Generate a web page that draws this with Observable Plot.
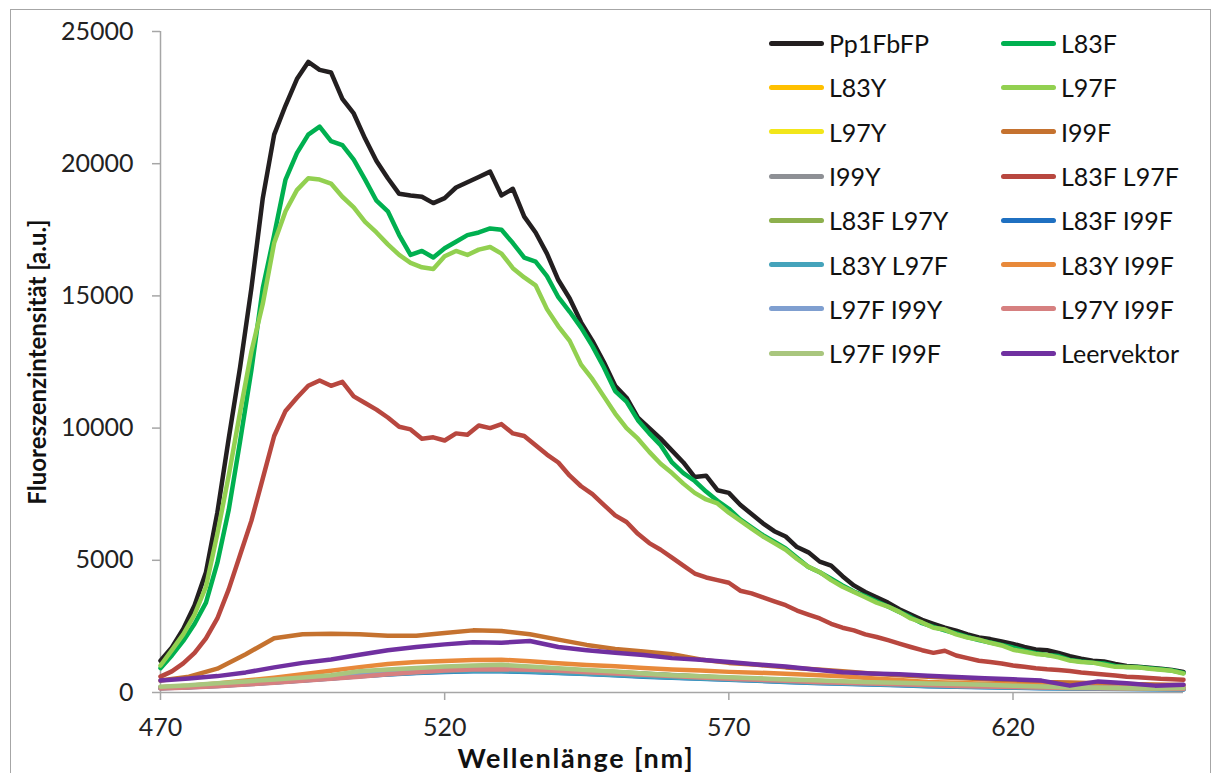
<!DOCTYPE html>
<html>
<head>
<meta charset="utf-8">
<script src="https://cdn.jsdelivr.net/npm/d3@7"></script>
<script src="https://cdn.jsdelivr.net/npm/@observablehq/plot@0.6"></script>
<style>
  html, body { margin: 0; padding: 0; background: #fff; }
  #wrap { position: relative; width: 1215px; height: 773px; overflow: hidden; font-family: Lato, "Open Sans", sans-serif; }
  #frame { position: absolute; left: 10px; top: 9px; width: 1201px; height: 800px; border: 1.5px solid #a6a6a6; box-sizing: border-box; }
  #chart { position: absolute; left: 0; top: 0; }
  #ytitle { position: absolute; left: 37px; top: 362px; transform: translate(-50%, -50%) rotate(-90deg); font-weight: bold; font-size: 24px; line-height: 26px; white-space: nowrap; color: #111; }
  #xtitle { position: absolute; left: 576px; top: 743px; transform: translateX(-50%); font-weight: bold; font-size: 27px; line-height: 29px; letter-spacing: 1.8px; white-space: nowrap; color: #111; }
  #legend { position: absolute; left: 769px; top: 21px; display: grid; grid-template-columns: 232px 200px; grid-auto-rows: 44.3px; }
  .item { display: flex; align-items: center; font-size: 25px; color: #111; }
  .sw { width: 55px; height: 5px; border-radius: 3px; margin-right: 5px; }
</style>
</head>
<body>
<div id="wrap">
  <div id="frame"></div>
  <div id="chart"></div>
  <div id="ytitle">Fluoreszenzintensität [a.u.]</div>
  <div id="xtitle">Wellenlänge [nm]</div>
  <div id="legend"></div>
</div>
<script>
const seriesNames = ["Pp1FbFP","L83F","L83Y","L97F","L97Y","I99F","I99Y","L83F L97F","L83F L97Y","L83F I99F","L83Y L97F","L83Y I99F","L97F I99Y","L97Y I99F","L97F I99F","Leervektor"];
const seriesColors = ["#231f20","#00b050","#ffc000","#92d050","#f2e61a","#c5722f","#8e9095","#b8473f","#8db04d","#1f70c1","#45a3bb","#e8893a","#7f9fd0","#d68080","#a9c67e","#7030a0"];

const xTicks = [470, 520, 570, 620];
const yTicks = [0, 5000, 10000, 15000, 20000, 25000];

// wavelength grids (nm)
const wl2 = [470,472,474,476,478,480,482,484,486,488,490,492,494,496,498,500,502,504,506,508,510,512,514,516,518,520,522,524,526,528,530,532,534,536,538,540,542,544,546,548,550,552,554,556,558,560,562,564,566,568,570,572,574,576,578,580,582,584,586,588,590,592,594,596,598,600,602,604,606,608,610,612,614,616,618,620,622,624,626,628,630,632,634,636,638,640,642,644,646,648,650];
const wl5 = [470,475,480,485,490,495,500,505,510,515,520,525,530,535,540,545,550,555,560,565,570,575,580,585,590,595,600,605,610,615,620,625,630,635,640,645,650];

// 2 nm series
const Pp1FbFP = [1200,1700,2400,3300,4550,6800,9600,12300,15300,18700,21100,22200,23200,23850,23550,23450,22450,21900,20950,20100,19450,18860,18800,18750,18510,18700,19100,19300,19500,19700,18800,19050,18000,17400,16600,15600,14900,14000,13300,12500,11600,11150,10400,10000,9600,9150,8700,8150,8200,7650,7550,7100,6750,6400,6100,5900,5500,5300,4950,4800,4400,4050,3800,3600,3400,3150,2950,2750,2600,2450,2340,2200,2080,2020,1930,1840,1720,1630,1600,1500,1370,1280,1200,1170,1080,1000,970,940,900,850,780];
const L83F = [920,1400,1950,2600,3400,4900,6900,9500,12200,15300,17300,19400,20400,21100,21400,20850,20700,20150,19400,18600,18200,17300,16550,16700,16450,16800,17050,17300,17400,17550,17500,17000,16450,16300,15750,14950,14400,13800,13100,12300,11400,11000,10300,9800,9350,8700,8300,8000,7600,7250,6950,6550,6250,5950,5700,5450,5100,4750,4550,4300,4050,3820,3650,3450,3250,3050,2850,2620,2480,2350,2230,2100,1980,1890,1800,1700,1580,1490,1420,1380,1230,1170,1130,1100,1000,960,960,920,880,830,740];
const L97F = [1020,1600,2200,2950,4000,6000,8200,10600,12900,14700,17000,18200,19000,19450,19400,19250,18750,18350,17800,17400,16950,16550,16250,16080,16020,16500,16700,16550,16750,16850,16600,16050,15700,15400,14500,13850,13300,12400,11850,11200,10550,10000,9600,9100,8650,8300,7900,7550,7300,7150,6800,6500,6200,5900,5650,5400,5050,4750,4550,4250,4000,3800,3600,3400,3250,3050,2800,2650,2450,2380,2200,2080,2000,1880,1780,1620,1540,1460,1420,1330,1210,1150,1130,1050,970,960,950,900,860,820,720];
const L83F_L97F = [600,800,1100,1500,2050,2800,3900,5200,6500,8100,9700,10650,11150,11600,11800,11600,11750,11200,10950,10700,10400,10050,9950,9600,9650,9530,9800,9750,10100,10000,10150,9800,9700,9350,9000,8700,8200,7800,7500,7100,6700,6450,6000,5650,5400,5100,4800,4500,4350,4250,4150,3850,3750,3600,3450,3300,3100,2950,2800,2600,2450,2350,2200,2100,1980,1850,1720,1600,1500,1580,1400,1300,1200,1150,1100,1020,970,920,880,850,810,760,720,680,640,600,580,550,520,500,480];

// 5 nm series
const L83Y = [180,220,280,350,420,500,580,670,750,820,870,900,910,890,850,800,750,700,640,590,540,500,460,420,380,350,320,290,260,240,220,200,180,170,160,150,140];
const L97Y = [170,210,270,340,410,490,570,650,730,800,850,880,890,870,830,780,730,680,620,570,520,480,440,400,360,330,300,270,250,230,210,190,170,160,150,140,130];
const I99F = [450,600,900,1450,2050,2200,2220,2200,2150,2150,2250,2350,2330,2200,2000,1800,1650,1550,1450,1250,1120,1050,950,880,800,720,650,600,550,500,450,400,380,350,320,300,280];
const I99Y = [190,230,290,360,430,510,590,680,760,830,880,910,920,900,860,810,760,700,650,600,550,510,470,430,390,360,330,300,270,250,230,210,190,180,170,160,150];
const L83F_L97Y = [200,240,300,370,440,520,600,690,770,840,890,930,950,920,880,830,780,720,660,610,560,520,480,440,400,370,340,310,280,260,240,220,200,190,180,170,160];
const L83F_I99F = [160,200,250,310,380,450,530,610,680,740,780,800,800,780,740,700,650,600,560,520,480,440,400,360,330,300,270,240,220,200,180,160,150,140,130,120,110];
const L83Y_L97F = [170,210,260,320,390,460,540,620,690,750,790,810,810,790,750,710,660,610,570,530,490,450,410,370,340,310,280,250,230,210,190,170,160,150,140,130,120];
const L83Y_I99F = [200,260,340,450,560,690,820,960,1080,1150,1190,1230,1240,1180,1110,1040,990,930,870,830,780,750,710,660,610,540,470,400,370,330,300,270,240,220,200,190,180];
const L97F_I99Y = [190,230,290,360,440,520,600,690,770,840,890,930,940,910,870,820,770,710,650,600,550,510,470,430,390,360,330,300,270,250,230,210,190,180,170,160,150];
const L97Y_I99F = [150,190,240,300,370,440,520,600,690,770,830,870,880,860,820,770,720,670,620,570,520,480,440,400,370,340,310,280,250,230,210,190,170,160,150,140,130];
const L97F_I99F = [220,270,350,420,490,570,650,800,870,930,980,1020,1050,980,920,850,790,720,650,610,580,540,490,460,430,390,370,340,320,290,260,230,190,180,160,150,170];
const Leervektor = [450,530,620,760,950,1120,1250,1430,1600,1720,1820,1900,1880,1950,1720,1600,1500,1420,1300,1240,1150,1060,980,870,770,720,690,630,590,540,500,450,260,420,350,260,290];

const seriesValues = {
  "Pp1FbFP": [wl2, Pp1FbFP], "L83F": [wl2, L83F], "L83Y": [wl5, L83Y], "L97F": [wl2, L97F],
  "L97Y": [wl5, L97Y], "I99F": [wl5, I99F], "I99Y": [wl5, I99Y], "L83F L97F": [wl2, L83F_L97F],
  "L83F L97Y": [wl5, L83F_L97Y], "L83F I99F": [wl5, L83F_I99F], "L83Y L97F": [wl5, L83Y_L97F],
  "L83Y I99F": [wl5, L83Y_I99F], "L97F I99Y": [wl5, L97F_I99Y], "L97Y I99F": [wl5, L97Y_I99F],
  "L97F I99F": [wl5, L97F_I99F], "Leervektor": [wl5, Leervektor]
};

const rows = [];
for (const name of seriesNames) {
  const [xs, ys] = seriesValues[name];
  const n = Math.min(xs.length, ys.length);
  for (let i = 0; i < n; i++) rows.push({series: name, wl: xs[i], v: ys[i]});
}

const chart = Plot.plot({
  width: 1215,
  height: 773,
  marginLeft: 160,
  marginRight: 32,
  marginTop: 31,
  marginBottom: 81,
  style: {fontFamily: "Lato, 'Open Sans', sans-serif", fontSize: "25px", color: "#222", background: "transparent"},
  x: {domain: [470, 650]},
  y: {domain: [0, 25000]},
  color: {domain: seriesNames, range: seriesColors},
  marks: [
    Plot.ruleX([470], {stroke: "#a6a6a6", strokeWidth: 1.5}),
    Plot.ruleY([0], {stroke: "#a6a6a6", strokeWidth: 1.5}),
    Plot.axisY({ticks: yTicks, tickSize: 8, tickPadding: 19, stroke: "#a6a6a6", strokeWidth: 1.5, label: null, tickFormat: d => String(d), fill: "#222"}),
    Plot.axisX({ticks: xTicks, tickSize: 8, tickPadding: 18, stroke: "#a6a6a6", strokeWidth: 1.5, label: null, tickFormat: d => String(d), fill: "#222"}),
    Plot.line(rows, {x: "wl", y: "v", z: "series", stroke: "series", strokeWidth: 4.5, strokeLinejoin: "round", strokeLinecap: "round"})
  ]
});
document.getElementById("chart").appendChild(chart);

const legend = document.getElementById("legend");
seriesNames.forEach((name, i) => {
  const it = document.createElement("div");
  it.className = "item";
  const sw = document.createElement("span");
  sw.className = "sw";
  sw.style.background = seriesColors[i];
  const tx = document.createElement("span");
  tx.textContent = name;
  it.appendChild(sw);
  it.appendChild(tx);
  legend.appendChild(it);
});
</script>
</body>
</html>
